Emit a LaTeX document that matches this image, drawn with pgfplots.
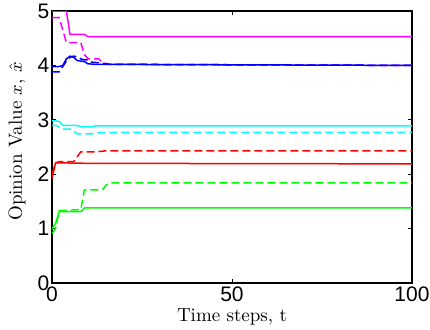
\documentclass[border=0pt]{standalone}
\usepackage{fontspec}
\newfontfamily\tickfont{Liberation Sans}
\usepackage{pgfplots}
\pgfplotsset{compat=1.18}
\definecolor{mmag}{rgb}{1,0,1}
\definecolor{mblue}{rgb}{0,0,1}
\definecolor{mcyan}{rgb}{0,1,1}
\definecolor{mred}{rgb}{1,0,0}
\definecolor{mgreen}{rgb}{0,1,0}
\begin{document}
\begin{tikzpicture}
\begin{axis}[
  scale only axis,
  width=180pt, height=136pt,
  xmin=0, xmax=100, ymin=0, ymax=5,
  xtick={0,50,100}, ytick={0,1,2,3,4,5},
  tick align=inside,
  major tick length=1.8pt,
  tick style={black, line width=0.4pt},
  axis line style={black, line width=0.7pt},
  /pgf/number format/assume math mode=true,
  ticklabel style={font=\tickfont\fontsize{10.5}{11}\selectfont},
  yticklabel style={inner sep=1.2pt},
  xticklabel style={inner sep=1.5pt},
  xlabel={Time steps, t},
  ylabel={Opinion Value $x$, $\hat{x}$},
  label style={font=\fontsize{9.5}{11}\selectfont},
  xlabel style={at={(axis description cs:0.5,-0.125)}, anchor=center},
  ylabel style={at={(axis description cs:-0.097,0.52)}, anchor=center},
  every axis plot/.append style={line width=0.75pt, mark=none},
  clip=true,
]
% magenta
\addplot[mmag] coordinates {(0,5.0) (1,5.0) (2,5.0) (3,5.0) (4,5.0) (5,4.57) (9,4.57) (10,4.53) (100,4.53)};
\addplot[mmag, dash pattern=on 4pt off 2pt] coordinates {(0,4.88) (1,4.88) (2,4.88) (3,4.65) (4,4.42) (8,4.42) (9,4.2) (10,4.12) (13,4.12) (14,4.05) (16,4.02) (100,4.0)};
% blue
\addplot[mblue] coordinates {(0,3.98) (1,3.98) (2,3.98) (3,4.0) (4,4.12) (5,4.17) (6,4.15) (7,4.09) (8,4.08) (9,4.07) (10,4.03) (12,4.02) (100,4.0)};
\addplot[mblue, dash pattern=on 4pt off 2pt] coordinates {(0,3.88) (1,3.88) (2,3.88) (3,3.98) (4,4.08) (5,4.15) (6,4.17) (7,4.16) (8,4.12) (9,4.1) (10,4.1) (11,4.06) (13,4.05) (16,4.02) (100,4.0)};
% cyan
\addplot[mcyan] coordinates {(0,2.98) (1,2.98) (2,2.97) (3,2.90) (7,2.90) (8,2.87) (11,2.87) (12,2.89) (100,2.89)};
\addplot[mcyan, dash pattern=on 4pt off 2pt] coordinates {(0,2.90) (1,2.90) (2,2.87) (3,2.83) (5,2.83) (6,2.80) (7,2.74) (11,2.74) (12,2.76) (20,2.77) (100,2.77)};
% red
\addplot[mred] coordinates {(0,1.92) (1,2.21) (10,2.2) (100,2.19)};
\addplot[mred, dash pattern=on 4pt off 2pt] coordinates {(0,2.0) (1,2.21) (2,2.23) (6,2.23) (7,2.32) (8,2.41) (12,2.41) (15,2.43) (100,2.43)};
% green
\addplot[mgreen] coordinates {(0,0.99) (1,1.1) (2,1.31) (8,1.31) (9,1.38) (100,1.38)};
\addplot[mgreen, dash pattern=on 4pt off 2pt] coordinates {(0,0.91) (1,1.0) (2,1.33) (8,1.35) (9,1.71) (14,1.71) (15,1.8) (16,1.84) (100,1.84)};
\end{axis}
\pgfresetboundingbox
\useasboundingbox (-26pt,-23pt) rectangle (189pt,141.5pt);
\end{tikzpicture}
\end{document}
